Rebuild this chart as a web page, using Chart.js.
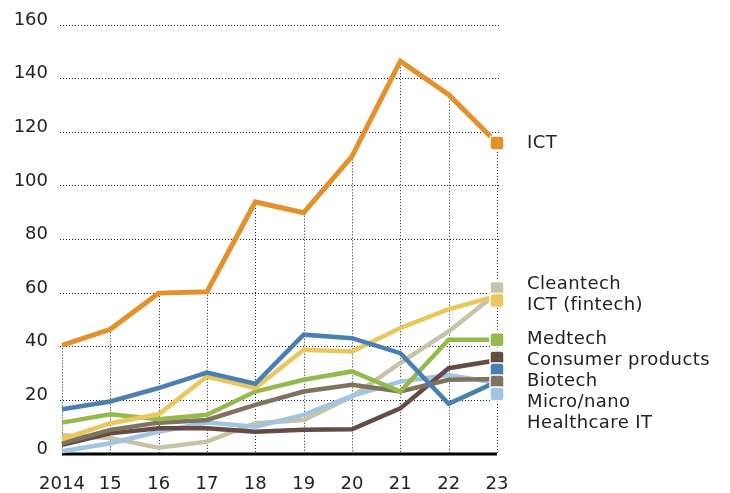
<!DOCTYPE html>
<html>
<head>
<meta charset="utf-8">
<script src="https://cdn.jsdelivr.net/npm/chart.js@4.4.1/dist/chart.umd.min.js"></script>
<style>
  html, body { margin: 0; padding: 0; background: #fff; }
  #wrap { width: 730px; height: 493px; position: relative; }
</style>
</head>
<body>
<div id="wrap"><canvas id="chart"></canvas></div>
<script>
// values (number of startups per sector)
const years = [2014, 2015, 2016, 2017, 2018, 2019, 2020, 2021, 2022, 2023];
const yearLabels = ['2014', '15', '16', '17', '18', '19', '20', '21', '22', '23'];
const yTicks = [0, 20, 40, 60, 80, 100, 120, 140, 160];

const ict = [40.5, 46.5, 60, 60.5, 94, 90, 111, 146.5, 134, 116];
const cleantech = [7, 6, 2.3, 4.6, 11.5, 12.7, 21.4, 34, 45.7, 60];
const fintech = [5.5, 11.5, 14.8, 28.9, 24.6, 38.9, 38.2, 47, 54, 59];
const medtech = [11.7, 14.8, 13, 14.6, 23.3, 27.7, 30.8, 23.3, 42.6, 42.6];
const consumer = [3.4, 7.7, 9.6, 9.6, 8.3, 9, 9.2, 17, 32, 35];
const biotech = [16.7, 19.6, 24.6, 30.4, 26.2, 44.5, 43.2, 37.6, 18.7, 27];
const micronano = [4, 9, 11.7, 12.7, 18.3, 23.3, 25.8, 23.3, 27.7, 28];
const healthIT = [1, 4, 8.3, 11.7, 10.2, 14.6, 21.7, 27, 29.5, 26.5];

// legend order, top to bottom
const series = [
  { name: 'ICT', values: ict, color: '#E3912A', width: 5 },
  { name: 'Cleantech', values: cleantech, color: '#C8C3A7', width: 4.5 },
  { name: 'ICT (fintech)', values: fintech, color: '#E9C75E', width: 4.5 },
  { name: 'Medtech', values: medtech, color: '#93BA4B', width: 4.5 },
  { name: 'Consumer products', values: consumer, color: '#654B45', width: 4.5 },
  { name: 'Biotech', values: biotech, color: '#4A80B1', width: 4.5 },
  { name: 'Micro/nano', values: micronano, color: '#7F735F', width: 4.5 },
  { name: 'Healthcare IT', values: healthIT, color: '#A0C4E1', width: 4.5 }
];
// which series sits on top (first = top)
const drawOrder = ['ICT', 'Biotech', 'ICT (fintech)', 'Medtech', 'Micro/nano', 'Consumer products', 'Healthcare IT', 'Cleantech'];

const FONT = 'DejaVu Sans';
const TEXT = '#222';
const DOT = '#222';

// dotted drop lines from the ICT curve, plus the solid base line
const gridPlugin = {
  id: 'dropLines',
  beforeDatasetsDraw(chart) {
    const { ctx, scales: { x, y } } = chart;
    ctx.save();
    ctx.strokeStyle = DOT;
    ctx.lineWidth = 1;
    ctx.setLineDash([1, 2]);
    years.forEach((yr, i) => {
      const px = Math.round(x.getPixelForValue(yr)) + 0.5;
      ctx.beginPath();
      ctx.moveTo(px, y.getPixelForValue(ict[i]));
      ctx.lineTo(px, y.getPixelForValue(0));
      ctx.stroke();
    });
    ctx.setLineDash([]);
    ctx.strokeStyle = '#000';
    ctx.lineWidth = 3;
    ctx.beginPath();
    ctx.moveTo(x.getPixelForValue(years[0]), y.getPixelForValue(0));
    ctx.lineTo(x.getPixelForValue(years[years.length - 1]), y.getPixelForValue(0));
    ctx.stroke();
    ctx.restore();
  }
};

// spread overlapping items apart, keeping each group centred
function spread(natural, gap) {
  let groups = natural.map(v => ({ sum: v, n: 1 }));
  const pos = g => g.sum / g.n;
  let changed = true;
  while (changed) {
    changed = false;
    for (let i = 0; i < groups.length - 1; i++) {
      const a = groups[i], b = groups[i + 1];
      const aBottom = pos(a) + (a.n - 1) / 2 * gap;
      const bTop = pos(b) - (b.n - 1) / 2 * gap;
      if (bTop - aBottom < gap) {
        groups.splice(i, 2, { sum: a.sum + b.sum, n: a.n + b.n });
        changed = true;
        break;
      }
    }
  }
  const out = [];
  groups.forEach(g => {
    for (let k = 0; k < g.n; k++) out.push(pos(g) + (k - (g.n - 1) / 2) * gap);
  });
  return out;
}

// text lines: pushed down under each other; a pushed pair is centred on its markers
function stackText(markY, gap) {
  const out = [];
  const groups = [];
  markY.forEach((m, i) => {
    if (i > 0 && m < out[i - 1] + gap) {
      out.push(out[i - 1] + gap);
      groups[groups.length - 1].push(i);
    } else {
      out.push(m);
      groups.push([i]);
    }
  });
  groups.forEach(g => {
    if (g.length === 2) {
      const mid = (markY[g[0]] + markY[g[1]]) / 2;
      out[g[0]] = mid - gap / 2;
      out[g[1]] = mid + gap / 2;
    }
  });
  return out;
}

const endLabels = {
  id: 'endLabels',
  afterDatasetsDraw(chart) {
    const { ctx, scales: { x, y } } = chart;
    const last = years.length - 1;
    const mx = x.getPixelForValue(years[last]);
    const natural = series.map(s => y.getPixelForValue(s.values[last]));
    const markY = spread(natural, 12);
    const textY = stackText(markY, 21);
    ctx.save();
    series.forEach((s, i) => {
      ctx.beginPath();
      ctx.roundRect(mx - 7, markY[i] - 7, 14, 14, 3);
      ctx.fillStyle = s.color;
      ctx.fill();
      ctx.lineWidth = 1.5;
      ctx.strokeStyle = '#fff';
      ctx.stroke();
    });
    ctx.fillStyle = TEXT;
    ctx.font = '18px "' + FONT + '"';
    ctx.letterSpacing = '0.4px';
    ctx.textAlign = 'left';
    ctx.textBaseline = 'middle';
    series.forEach((s, i) => {
      ctx.fillText(s.name, 527, textY[i]);
    });
    ctx.restore();
  }
};

const datasets = series.map(s => ({
  label: s.name,
  data: years.map((yr, i) => ({ x: yr, y: s.values[i] })),
  borderColor: s.color,
  backgroundColor: s.color,
  borderWidth: s.width,
  pointRadius: 0,
  tension: 0,
  borderJoinStyle: 'miter',
  order: drawOrder.indexOf(s.name)
}));

new Chart(document.getElementById('chart'), {
  type: 'line',
  data: { datasets },
  options: {
    responsive: true,
    maintainAspectRatio: false,
    animation: false,
    layout: { padding: { top: 25, right: 229, left: 0, bottom: 0 } },
    plugins: {
      legend: { display: false },
      tooltip: { enabled: false }
    },
    scales: {
      x: {
        type: 'linear',
        min: 2013.959,
        max: 2023.083,
        afterBuildTicks: axis => { axis.ticks = years.map(v => ({ value: v })); },
        afterFit: axis => { axis.height = 39; },
        grid: { display: false, drawTicks: false },
        border: { display: false },
        ticks: {
          padding: 20,
          maxRotation: 0,
          autoSkip: false,
          color: TEXT,
          font: { family: FONT, size: 18 },
          callback: v => yearLabels[years.indexOf(v)]
        }
      },
      y: {
        min: 0,
        max: 160,
        afterBuildTicks: axis => { axis.ticks = yTicks.map(v => ({ value: v })); },
        afterFit: axis => { axis.width = 60; },
        grid: {
          drawTicks: false,
          color: c => (c.tick && c.tick.value === 0) ? 'rgba(0,0,0,0)' : DOT,
          lineWidth: 1
        },
        border: { display: false, dash: [1, 2] },
        ticks: {
          padding: 12,
          labelOffset: -5,
          color: TEXT,
          font: { family: FONT, size: 18 }
        }
      }
    }
  },
  plugins: [gridPlugin, endLabels]
});
</script>
</body>
</html>
